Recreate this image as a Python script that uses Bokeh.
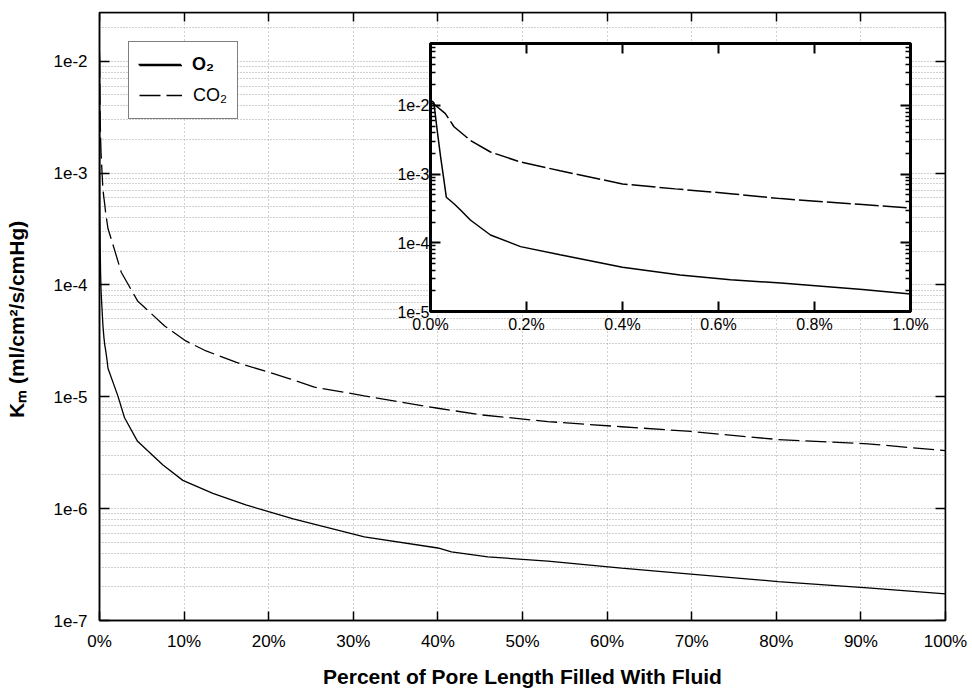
import math
from bokeh.plotting import figure
from bokeh.models import (LogAxis, LinearAxis, Range1d, LogScale, LinearScale, FixedTicker,
                          CustomJSTickFormatter, Legend, LegendItem, ColumnDataSource)
from bokeh.embed import file_html
from bokeh.resources import INLINE

# ---------------- data ----------------
o2_pct = [0.0, 0.007, 0.014, 0.021, 0.028, 0.033, 0.049, 0.0625, 0.083, 0.125, 0.1875, 0.27,
          0.40, 0.52, 0.625, 0.73, 0.90, 1.0, 2.17, 2.96, 4.5, 7.5, 9.85, 13.4, 17.3, 22.9,
          31.3, 40.0, 41.6, 45.9, 53.0, 61.7, 69.9, 80.2, 90.8, 100.0]
o2_km = [1.2e-2, 1.1e-2, 4.3e-3, 1.8e-3, 8.2e-4, 4.6e-4, 3.7e-4, 3.0e-4, 2.15e-4, 1.3e-4, 8.8e-5, 6.7e-5,
         4.4e-5, 3.4e-5, 2.9e-5, 2.6e-5, 2.1e-5, 1.8e-5, 1.02e-5, 6.5e-6, 4.0e-6, 2.46e-6, 1.79e-6, 1.37e-6,
         1.08e-6, 8.1e-7, 5.6e-7, 4.45e-7, 4.1e-7, 3.7e-7, 3.4e-7, 2.94e-7, 2.6e-7, 2.23e-7, 1.96e-7, 1.73e-7]

co2_pct = [0.0, 0.007, 0.031, 0.049, 0.083, 0.125, 0.1875, 0.27, 0.40, 0.51, 0.625, 0.73, 0.90, 1.0,
           1.77, 2.57, 4.5, 7.7, 10.2, 12.6, 16.2, 22.5, 25.4, 31.3, 40.0, 45.1, 53.0, 61.7, 69.9,
           80.2, 90.8, 100.0]
co2_km = [1.1e-2, 1.05e-2, 7.6e-3, 4.9e-3, 3.1e-3, 2.1e-3, 1.5e-3, 1.12e-3, 7.2e-4, 6.1e-4, 5.2e-4, 4.4e-4,
          3.6e-4, 3.2e-4, 2.07e-4, 1.3e-4, 7.2e-5, 4.3e-5, 3.16e-5, 2.57e-5, 2.03e-5, 1.45e-5, 1.22e-5,
          1.02e-5, 7.9e-6, 6.9e-6, 6.0e-6, 5.4e-6, 4.9e-6, 4.15e-6, 3.8e-6, 3.3e-6]

series_labels = ["O\u2082", "CO\u2082"]
x_label = "Percent of Pore Length Filled With Fluid"
y_label = "K\u2098  (ml/cm\u00b2/s/cmHg)"

x_ticks = [0, 10, 20, 30, 40, 50, 60, 70, 80, 90, 100]
y_ticks = [1e-7, 1e-6, 1e-5, 1e-4, 1e-3, 1e-2]
inset_x_ticks = [0.0, 0.2, 0.4, 0.6, 0.8, 1.0]
inset_y_ticks = [1e-5, 1e-4, 1e-3, 1e-2]

X_RANGE = (0.0, 100.0)
Y_RANGE = (1e-7, 2.73e-2)
INSET_X = (0.0, 1.0)
INSET_Y = (1e-5, 8e-2)

# ---------------- layout ----------------
FONT = "Liberation Sans"
INK = "black"
W, H = 970, 690
ML, MR, MT, MB = 99, 25, 12, 68
FW, FH = W - ML - MR, H - MT - MB
# inset box inside frame (pixels from frame left / top)
IL, IR, IT, IB = 331, 811, 31, 300

def minor_log(lo, hi):
    out = []
    e = math.floor(math.log10(lo))
    while 10 ** e <= hi:
        for m in range(2, 10):
            v = m * 10 ** e
            if lo <= v <= hi:
                out.append(v)
        e += 1
    return out

p = figure(width=W, height=H, title=None,
           x_range=Range1d(*X_RANGE), y_range=Range1d(*Y_RANGE), y_axis_type="log",
           output_backend="svg", toolbar_location=None,
           min_border_left=ML, min_border_right=MR, min_border_top=MT, min_border_bottom=MB)
p.background_fill_color = "white"
p.border_fill_color = "white"
p.outline_line_color = INK
p.outline_line_width = 1.5

xfmt = CustomJSTickFormatter(code="return tick.toFixed(0) + '%';")
yfmt = CustomJSTickFormatter(code="return '1e' + Math.round(Math.log10(tick));")
ixfmt = CustomJSTickFormatter(code="return tick.toFixed(1) + '%';")

# main axes
xa = p.xaxis[0]
xa.ticker = FixedTicker(ticks=x_ticks)
xa.formatter = xfmt
xa.major_tick_in = 9
xa.major_tick_out = 0
xa.major_tick_line_width = 1.5
xa.major_tick_line_color = INK
xa.minor_tick_line_color = None
xa.axis_line_width = 1.5
xa.axis_line_color = INK
xa.major_label_text_font = FONT
xa.major_label_text_font_size = "17px"
xa.major_label_text_color = INK
xa.major_label_standoff = 11
xa.axis_label = x_label
xa.axis_label_text_font = FONT
xa.axis_label_text_font_style = "bold"
xa.axis_label_text_font_size = "21px"
xa.axis_label_text_color = INK
xa.axis_label_standoff = 11

ya = p.yaxis[0]
ya.ticker = FixedTicker(ticks=y_ticks, minor_ticks=minor_log(*Y_RANGE))
ya.formatter = yfmt
ya.major_tick_in = 10
ya.major_tick_out = 0
ya.major_tick_line_width = 1.5
ya.major_tick_line_color = INK
ya.minor_tick_line_color = None
ya.axis_line_width = 1.5
ya.axis_line_color = INK
ya.major_label_text_font = FONT
ya.major_label_text_font_size = "17px"
ya.major_label_text_color = INK
ya.major_label_standoff = 8
ya.axis_label = y_label
ya.axis_label_text_font = FONT
ya.axis_label_text_font_style = "bold"
ya.axis_label_text_font_size = "21px"
ya.axis_label_text_color = INK
ya.axis_label_standoff = 22

top = LinearAxis(ticker=FixedTicker(ticks=x_ticks), fixed_location=Y_RANGE[1],
                 major_tick_in=9, major_tick_out=0, major_tick_line_width=1.5,
                 minor_tick_line_color=None, major_label_text_color=None, axis_line_width=1.5)
p.add_layout(top, "above")
right = LogAxis(ticker=FixedTicker(ticks=y_ticks), fixed_location=X_RANGE[1],
                major_tick_in=10, major_tick_out=0, major_tick_line_width=1.5,
                minor_tick_line_color=None, major_label_text_color=None, axis_line_width=1.5)
p.add_layout(right, "right")

# grid
p.xgrid[0].grid_line_color = "#8c8c8c"
p.xgrid[0].grid_line_dash = "1 3"
p.xgrid[0].grid_line_alpha = 0.8
p.ygrid[0].grid_line_color = "#8c8c8c"
p.ygrid[0].grid_line_dash = "1 2"
p.ygrid[0].grid_line_alpha = 0.8
p.ygrid[0].minor_grid_line_color = "#8c8c8c"
p.ygrid[0].minor_grid_line_dash = "1 2"
p.ygrid[0].minor_grid_line_alpha = 0.8

# main curves
src_o2 = ColumnDataSource(dict(x=o2_pct, y=o2_km))
src_co2 = ColumnDataSource(dict(x=co2_pct, y=co2_km))
r_o2 = p.line("x", "y", source=src_o2, line_color=INK, line_width=1.3)
r_co2 = p.line("x", "y", source=src_co2, line_color=INK, line_width=1.3, line_dash="21 6")

# ---------------- inset (extra ranges mapped onto a sub-rectangle) ----------------
xper = (INSET_X[1] - INSET_X[0]) / (IR - IL)
ix0 = INSET_X[0] - IL * xper
ix1 = INSET_X[1] + (FW - IR) * xper
lper = (math.log10(INSET_Y[1]) - math.log10(INSET_Y[0])) / (IB - IT)
iy1 = math.log10(INSET_Y[1]) + IT * lper
iy0 = math.log10(INSET_Y[0]) - (FH - IB) * lper
p.extra_x_ranges = {"ix": Range1d(ix0, ix1)}
p.extra_x_scales = {"ix": LinearScale()}
p.extra_y_ranges = {"iy": Range1d(10 ** iy0, 10 ** iy1)}
p.extra_y_scales = {"iy": LogScale()}

p.quad(left=[INSET_X[0]], right=[INSET_X[1]], bottom=[INSET_Y[0]], top=[INSET_Y[1]],
       fill_color="white", line_color=INK, line_width=3,
       x_range_name="ix", y_range_name="iy")

o2_in = [(x, y) for x, y in zip(o2_pct, o2_km) if x <= INSET_X[1]]
co2_in = [(x, y) for x, y in zip(co2_pct, co2_km) if x <= INSET_X[1]]
p.line([a for a, _ in o2_in], [b for _, b in o2_in], line_color=INK, line_width=1.5,
       x_range_name="ix", y_range_name="iy")
p.line([a for a, _ in co2_in], [b for _, b in co2_in], line_color=INK, line_width=1.5,
       line_dash="24 4", x_range_name="ix", y_range_name="iy")

common = dict(x_range_name="ix", y_range_name="iy", major_tick_out=0, minor_tick_out=0,
              axis_line_color=None, major_tick_line_width=2, minor_tick_line_width=1.5,
              major_tick_line_color=INK, minor_tick_line_color=INK,
              major_label_text_font=FONT, major_label_text_font_size="16px")
i_left = LogAxis(fixed_location=INSET_X[0], bounds=INSET_Y,
                 ticker=FixedTicker(ticks=inset_y_ticks, minor_ticks=minor_log(*INSET_Y)),
                 formatter=yfmt, major_tick_in=10, minor_tick_in=5, major_label_standoff=1,
                 major_label_text_color=INK, **common)
p.add_layout(i_left, "left")
i_right = LogAxis(fixed_location=INSET_X[1], bounds=INSET_Y,
                  ticker=FixedTicker(ticks=inset_y_ticks, minor_ticks=minor_log(*INSET_Y)),
                  major_tick_in=10, minor_tick_in=5, major_label_text_color=None, **common)
p.add_layout(i_right, "right")
common_h = dict(common)
common_h["minor_tick_line_color"] = None
i_bot = LinearAxis(fixed_location=INSET_Y[0], bounds=INSET_X, ticker=FixedTicker(ticks=inset_x_ticks),
                   formatter=ixfmt, major_tick_in=10, major_label_standoff=4,
                   major_label_text_color=INK, **common_h)
p.add_layout(i_bot, "below")
i_top = LinearAxis(fixed_location=INSET_Y[1], bounds=INSET_X, ticker=FixedTicker(ticks=inset_x_ticks),
                   major_tick_in=10, major_label_text_color=None, **common_h)
p.add_layout(i_top, "above")

# ---------------- legend (O2 label bold, CO2 label regular) ----------------
LEG_MARGIN, LEG_PAD = 29, 10
leg_common = dict(location="top_left", spacing=4,
                  glyph_width=43, glyph_height=26, label_standoff=11,
                  label_text_font=FONT, label_text_font_size="18px", label_text_color=INK)
legend = Legend(items=[LegendItem(label="", renderers=[r_o2]),
                       LegendItem(label=series_labels[1], renderers=[r_co2])],
                margin=LEG_MARGIN, padding=LEG_PAD,
                border_line_color=INK, border_line_width=1.5,
                background_fill_color="white", background_fill_alpha=1.0, **leg_common)
p.add_layout(legend)
# borderless legend has no padding, so shift it by the padding to sit on the first row
legend_bold = Legend(items=[LegendItem(label=series_labels[0], renderers=[r_o2])],
                     margin=LEG_MARGIN + LEG_PAD, padding=0,
                     label_text_font_style="bold", border_line_color=None,
                     background_fill_alpha=0.0, **leg_common)
p.add_layout(legend_bold)

open("out.html", "w").write(file_html(p, INLINE))
